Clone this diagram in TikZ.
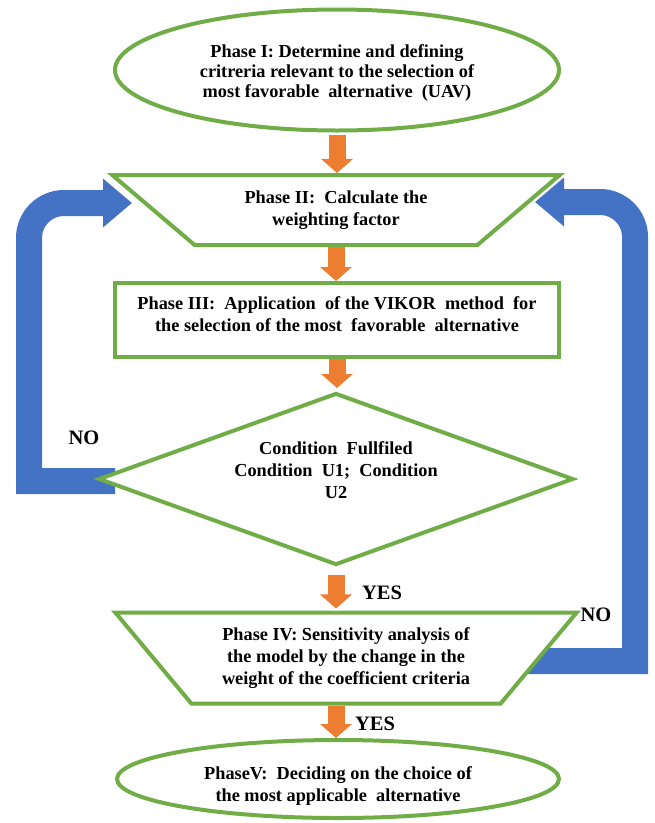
\documentclass[tikz,border=0pt]{standalone}
\usepackage{fontspec}
\setmainfont{Liberation Serif}
\usetikzlibrary{shapes.geometric,arrows.meta}
\definecolor{grn}{HTML}{70AD47}
\definecolor{org}{HTML}{ED7D31}
\definecolor{blu}{HTML}{4472C4}
\newcommand{\dsp}{\ \ }
\begin{document}
\begin{tikzpicture}[x=1pt,y=-1pt,
  box/.style={draw=grn, line width=4pt, fill=white, align=center, inner sep=0pt,
    font=\fontsize{18.3}{22}\selectfont\bfseries},
  ell/.style={box, ellipse},
  trap/.style={box, trapezium, shape border rotate=180, trapezium stretches=true},
  dia/.style={box, diamond},
  lbl/.style={font=\fontsize{20.5}{24}\selectfont\bfseries},
  orarrow/.style={draw=org, line width=17pt, -{Triangle[length=14pt,width=31pt]}},
  bluarrow/.style={draw=blu, line width=26pt, -{Triangle[length=29pt,width=47pt]}}]
\useasboundingbox (0,0) rectangle (655,823);
% feedback arrows
\coordinate (Lstart) at (115,481);
\coordinate (Lend) at (132,203);
\coordinate (Rstart) at (528,661);
\coordinate (Rend) at (535,202);
\draw[bluarrow] (Lstart) -- (29,481) -- (29,238) arc[start angle=180,end angle=270,radius=35] -- (Lend);
\draw[bluarrow] (Rstart) -- (635,661) -- (635,237) arc[start angle=0,end angle=-90,radius=35] -- (Rend);
% phases
\node[ell, minimum width=444pt, minimum height=121pt, font=\fontsize{18.3}{20}\selectfont\bfseries, text height=59pt] (p1) at (337,70)
  {Phase I: Determine and defining\\critreria relevant to the selection of\\most favorable\dsp alternative\dsp (UAV)};
\node[trap, minimum width=448pt, minimum height=70pt, trapezium left angle=36, trapezium right angle=36] (p2) at (336,210)
  {Phase II:\dsp Calculate the\\weighting factor};
\node[box, rectangle, minimum width=444pt, minimum height=74pt, text depth=12pt] (p3) at (337,320)
  {Phase III:\dsp Application\dsp of the VIKOR\dsp method\dsp for\\the selection of the most\dsp favorable\dsp alternative};
\node[dia, aspect=2.76, minimum width=475pt, minimum height=172pt, text depth=18pt] (d) at (336,479)
  {Condition\dsp Fullfiled\\Condition\dsp U1;\dsp Condition\\U2};
\node[trap, minimum width=462pt, minimum height=91pt, trapezium left angle=45, trapezium right angle=45] (p4) at (346,658)
  {Phase IV: Sensitivity analysis of\\the model by the change in the\\weight of the coefficient criteria};
\node[ell, minimum width=442pt, minimum height=78pt, text height=48pt] (p5) at (338,779)
  {PhaseV:\dsp Deciding on the choice of\\the most applicable\dsp alternative};
% main flow
\draw[orarrow, shorten <=2pt] (p1.south) -- (p1.south |- p2.north);
\draw[orarrow, shorten <=0pt] (p2.south) -- (p2.south |- p3.north);
\draw[orarrow, shorten <=0pt, shorten >=3pt] (p3.south) -- (p3.south |- d.north);
\draw[orarrow, shorten <=8pt, shorten >=2pt] (d.south) -- (d.south |- p4.north);
\draw[orarrow, shorten <=0pt] (d.south |- p4.south) -- (d.south |- p5.north);
% labels
\node[lbl] (no1) at (84,438) {NO};
\node[lbl] (no2) at (596,615) {NO};
\node[lbl] (yes1) at (382,593) {YES};
\node[lbl] (yes2) at (375,724) {YES};
\end{tikzpicture}
\end{document}
